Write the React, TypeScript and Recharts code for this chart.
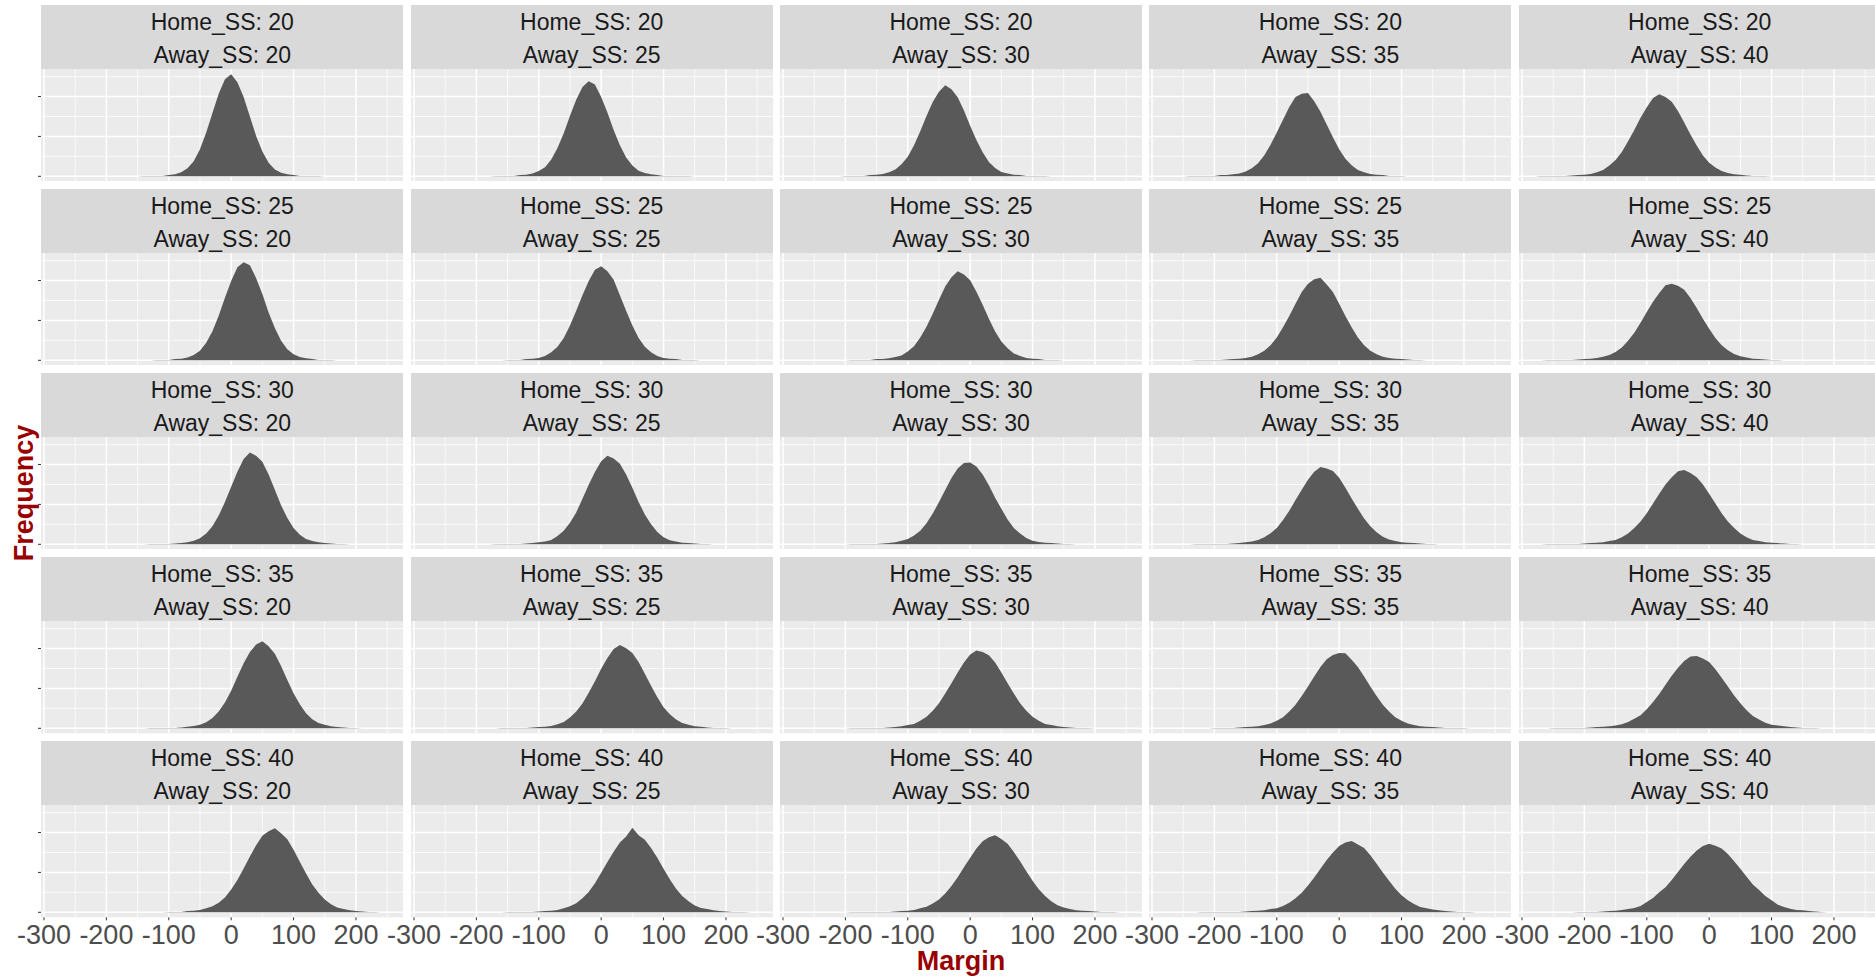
import { AreaChart, Area, XAxis, YAxis, CartesianGrid } from "recharts";

// facet labels
const HOME_SS = [20, 25, 30, 35, 40];
const AWAY_SS = [20, 25, 30, 35, 40];

// histogram bin centres (Margin), 10 points wide
const BINS = [
  -290, -280, -270, -260, -250, -240, -230, -220, -210, -200,
  -190, -180, -170, -160, -150, -140, -130, -120, -110, -100,
  -90, -80, -70, -60, -50, -40, -30, -20, -10, 0,
  10, 20, 30, 40, 50, 60, 70, 80, 90, 100,
  110, 120, 130, 140, 150, 160, 170, 180, 190, 200,
  210, 220, 230, 240, 250, 260, 270,
];

// first bin of each panel's counts, row = Home_SS, col = Away_SS
const FIRST_BIN = [
  [-150, -180, -210, -250, -280],
  [-130, -160, -200, -240, -270],
  [-140, -180, -200, -240, -270],
  [-140, -170, -200, -210, -260],
  [-110, -160, -200, -230, -220],
];

const HOME_20 = [
  [0, 1, 1, 1, 1, 3, 5, 10, 20, 38, 68, 110, 159, 207, 243, 256, 236, 199, 150, 101, 62, 34, 17, 9, 5, 3, 1, 1, 1, 1, 0],
  [0, 1, 1, 1, 1, 3, 4, 7, 13, 23, 42, 71, 108, 152, 192, 224, 238, 230, 199, 160, 116, 78, 47, 27, 14, 8, 5, 3, 1, 1, 1, 1, 1, 0],
  [0, 1, 1, 1, 1, 3, 4, 6, 10, 17, 30, 49, 78, 113, 151, 186, 212, 228, 218, 198, 165, 127, 91, 60, 36, 21, 11, 7, 4, 3, 1, 1, 1, 1, 0],
  [0, 1, 1, 1, 1, 1, 3, 3, 5, 7, 12, 20, 33, 53, 79, 110, 142, 174, 199, 207, 209, 188, 162, 130, 98, 68, 44, 28, 16, 10, 6, 4, 3, 1, 1, 1, 0],
  [0, 1, 1, 1, 1, 1, 2, 3, 4, 6, 10, 16, 27, 41, 61, 88, 116, 147, 173, 196, 206, 199, 187, 164, 135, 105, 77, 52, 34, 22, 13, 8, 5, 4, 2, 1, 1, 1, 0],
];

const HOME_25 = [
  [0, 1, 1, 1, 3, 4, 7, 13, 24, 44, 73, 112, 157, 199, 233, 246, 238, 206, 166, 120, 81, 49, 28, 15, 8, 5, 3, 1, 1, 1, 0],
  [0, 1, 1, 1, 3, 4, 6, 11, 20, 34, 56, 87, 124, 163, 199, 227, 236, 223, 202, 163, 124, 87, 56, 34, 20, 11, 6, 4, 3, 1, 1, 1, 0],
  [0, 1, 1, 1, 1, 3, 3, 5, 8, 12, 22, 35, 57, 84, 117, 152, 185, 208, 223, 215, 201, 172, 139, 104, 72, 47, 30, 17, 11, 6, 4, 3, 1, 1, 1, 0],
  [0, 1, 1, 1, 1, 1, 2, 3, 4, 6, 9, 15, 24, 38, 57, 83, 111, 142, 171, 192, 203, 207, 190, 171, 142, 111, 83, 57, 38, 24, 15, 9, 6, 4, 3, 2, 1, 1, 0],
  [0, 1, 1, 1, 1, 1, 2, 3, 4, 6, 9, 13, 21, 32, 49, 69, 94, 121, 147, 169, 188, 192, 187, 177, 156, 131, 104, 79, 56, 38, 25, 16, 10, 7, 4, 3, 2, 1, 1, 0],
];

const HOME_30 = [
  [0, 1, 1, 1, 1, 2, 3, 5, 9, 15, 27, 45, 72, 106, 144, 182, 214, 230, 222, 207, 175, 137, 98, 66, 41, 24, 13, 8, 5, 3, 2, 1, 1, 0],
  [0, 1, 1, 1, 1, 1, 2, 3, 5, 7, 11, 21, 34, 54, 80, 114, 149, 181, 208, 222, 215, 202, 175, 142, 106, 75, 50, 31, 18, 10, 7, 4, 3, 2, 1, 1, 0],
  [0, 1, 1, 1, 1, 1, 2, 3, 5, 9, 13, 22, 34, 53, 77, 106, 136, 166, 190, 204, 205, 195, 175, 148, 117, 89, 62, 41, 27, 16, 9, 6, 4, 3, 2, 1, 1, 0],
  [0, 1, 1, 1, 1, 1, 1, 2, 3, 5, 7, 11, 18, 28, 41, 61, 84, 111, 137, 162, 182, 194, 190, 184, 167, 142, 115, 89, 65, 45, 30, 19, 12, 8, 5, 4, 3, 2, 1, 1, 0],
  [0, 1, 1, 1, 1, 1, 1, 2, 3, 4, 5, 8, 11, 18, 27, 41, 57, 78, 102, 127, 150, 168, 183, 186, 179, 168, 150, 127, 102, 78, 57, 41, 27, 18, 11, 8, 5, 4, 3, 2, 1, 1, 0],
];

const HOME_35 = [
  [0, 1, 1, 1, 1, 1, 2, 4, 6, 9, 15, 26, 42, 65, 94, 129, 163, 191, 210, 218, 206, 187, 156, 121, 88, 60, 38, 23, 13, 9, 5, 3, 2, 1, 1, 0],
  [0, 1, 1, 1, 1, 1, 2, 3, 4, 6, 10, 16, 27, 42, 62, 89, 118, 149, 176, 199, 209, 201, 189, 166, 137, 107, 78, 53, 35, 22, 13, 9, 5, 4, 2, 1, 1, 1, 0],
  [0, 1, 1, 1, 1, 1, 1, 2, 3, 5, 8, 11, 19, 29, 44, 63, 87, 113, 140, 165, 185, 195, 191, 183, 165, 140, 113, 87, 63, 44, 29, 19, 11, 8, 5, 3, 2, 1, 1, 1, 0],
  [0, 1, 1, 1, 1, 2, 3, 4, 5, 8, 12, 19, 28, 42, 59, 81, 105, 130, 154, 173, 184, 189, 188, 172, 154, 130, 105, 81, 59, 42, 28, 19, 12, 8, 5, 4, 3, 2, 1, 1, 1, 1, 0],
  [0, 1, 1, 1, 1, 1, 1, 2, 3, 4, 5, 7, 10, 16, 24, 33, 48, 66, 86, 109, 132, 152, 169, 180, 181, 175, 166, 148, 127, 105, 82, 63, 45, 31, 22, 14, 9, 7, 5, 3, 2, 1, 1, 1, 0],
];

const HOME_40 = [
  [0, 1, 1, 1, 3, 4, 6, 10, 15, 24, 37, 57, 81, 110, 140, 168, 192, 203, 211, 198, 183, 157, 127, 97, 70, 49, 32, 20, 12, 8, 5, 3, 2, 1, 1, 0],
  [0, 1, 1, 1, 1, 1, 2, 3, 4, 6, 10, 15, 23, 35, 51, 73, 99, 126, 152, 175, 190, 212, 193, 182, 161, 137, 109, 83, 59, 41, 28, 17, 11, 8, 5, 3, 2, 1, 1, 1, 0],
  [0, 1, 1, 1, 1, 1, 1, 1, 2, 3, 4, 6, 10, 14, 22, 32, 47, 66, 88, 113, 137, 160, 178, 188, 193, 184, 172, 151, 128, 103, 79, 58, 41, 28, 18, 12, 8, 5, 4, 3, 2, 1, 1, 1, 0],
  [0, 1, 1, 1, 1, 1, 1, 1, 2, 3, 4, 5, 8, 10, 16, 24, 35, 49, 67, 87, 109, 131, 150, 166, 175, 179, 170, 161, 143, 122, 100, 79, 59, 43, 30, 21, 13, 10, 7, 5, 3, 2, 1, 1, 1, 0],
  [0, 1, 1, 1, 1, 2, 3, 4, 6, 8, 11, 16, 26, 36, 50, 63, 81, 101, 121, 139, 155, 166, 172, 167, 160, 146, 128, 109, 89, 70, 56, 41, 30, 19, 13, 9, 6, 5, 3, 2, 1, 0],
];

const COUNTS = [HOME_20, HOME_25, HOME_30, HOME_35, HOME_40];

const X_TICKS = [-300, -200, -100, 0, 100, 200];
const X_MINOR = [-250, -150, -50, 50, 150, 250];
const Y_TICKS = [0, 100, 200];
const Y_MINOR = [50, 150, 250];

const X_DOMAIN = [-304.8, 275.4];
const Y_DOMAIN = [-12.5, 269];

// layout (px)
const PANEL_LEFT = 41.3;
const COL_PITCH = 369.35;
const PANEL_W = 362;
const STRIP_TOP = 4.7;
const ROW_PITCH = 184.1;
const STRIP_H = 64.3;
const PLOT_H = 112.3;
const SIDE = 34;
const Y_AXIS_W = 4;
const AXIS_H = 40;

const FONT = "'Liberation Sans', Arial, Helvetica, sans-serif";
const BAR_COLOR = "#595959";
const PANEL_BG = "#EBEBEB";
const STRIP_BG = "#D9D9D9";
const TITLE_COLOR = "#990000";

// map values through the chart's own axis scale for the grid
const scaleOf = (axis: any) => {
  const s = axis && axis.scale;
  if (typeof s === "function") return (v: number) => s(v);
  if (s && typeof s.map === "function") return (v: number) => s.map(v);
  return null;
};

const yGrid = (values: number[]) => (props: any) => {
  const f = scaleOf(props.yAxis);
  return f ? values.map(f).filter((p) => Number.isFinite(p)) : [];
};

const xGrid = (values: number[]) => (props: any) => {
  const f = scaleOf(props.xAxis);
  return f ? values.map(f).filter((p) => Number.isFinite(p)) : [];
};

const NoLabel = () => <g />;

const Panel = ({ row, col }: { row: number; col: number }) => {
  const counts = COUNTS[row][col];
  const start = BINS.indexOf(FIRST_BIN[row][col]);
  const data = counts.map((n, i) => ({ margin: BINS[start + i], count: n }));
  const isBottom = row === HOME_SS.length - 1;
  const isLeft = col === 0;
  const left = PANEL_LEFT + col * COL_PITCH;
  const top = STRIP_TOP + row * ROW_PITCH;

  return (
    <>
      <div
        style={{
          position: "absolute",
          left,
          top,
          width: PANEL_W,
          height: STRIP_H,
          background: STRIP_BG,
          color: "#1A1A1A",
          fontFamily: FONT,
          fontSize: 23,
          lineHeight: "32.7px",
          paddingTop: 1.3,
          boxSizing: "border-box",
          textAlign: "center",
          whiteSpace: "nowrap",
        }}
      >
        <div>Home_SS: {HOME_SS[row]}</div>
        <div>Away_SS: {AWAY_SS[col]}</div>
      </div>
      <div style={{ position: "absolute", left: left - SIDE, top: top + STRIP_H }}>
        <AreaChart
          width={PANEL_W + 2 * SIDE}
          height={PLOT_H + (isBottom ? AXIS_H : 0)}
          data={data}
          margin={{ top: 0, right: SIDE, bottom: 0, left: isLeft ? SIDE - Y_AXIS_W : SIDE }}
        >
          <CartesianGrid
            fill={PANEL_BG}
            fillOpacity={1}
            stroke="#FFFFFF"
            strokeWidth={0.75}
            horizontalCoordinatesGenerator={yGrid(Y_MINOR)}
            verticalCoordinatesGenerator={xGrid(X_MINOR)}
          />
          <CartesianGrid
            stroke="#FFFFFF"
            strokeWidth={1.5}
            horizontalCoordinatesGenerator={yGrid(Y_TICKS)}
            verticalCoordinatesGenerator={xGrid(X_TICKS)}
          />
          <XAxis
            type="number"
            dataKey="margin"
            domain={X_DOMAIN}
            allowDataOverflow
            ticks={X_TICKS}
            interval={0}
            hide={!isBottom}
            height={AXIS_H}
            tickSize={3}
            tickMargin={5}
            axisLine={false}
            tickLine={{ stroke: "#333333" }}
            tick={{ fill: "#4D4D4D", fontSize: 27, fontFamily: FONT }}
          />
          <YAxis
            type="number"
            domain={Y_DOMAIN}
            allowDataOverflow
            ticks={Y_TICKS}
            interval={0}
            hide={!isLeft}
            width={Y_AXIS_W}
            tick={NoLabel}
            tickSize={3}
            axisLine={false}
            tickLine={{ stroke: "#333333" }}
          />
          <Area
            type="linear"
            dataKey="count"
            fill={BAR_COLOR}
            fillOpacity={1}
            stroke="none"
            baseValue={0}
            dot={false}
            activeDot={false}
            isAnimationActive={false}
          />
        </AreaChart>
      </div>
    </>
  );
};

export default function App() {
  return (
    <div
      style={{
        position: "absolute",
        left: 0,
        top: 0,
        width: 1875,
        height: 976,
        overflow: "hidden",
        background: "#FFFFFF",
      }}
    >
      {HOME_SS.map((_, r) =>
        AWAY_SS.map((__, c) => <Panel key={`${r}-${c}`} row={r} col={c} />)
      )}
      <div
        style={{
          position: "absolute",
          left: 24,
          top: 493,
          transform: "translate(-50%, -50%) rotate(-90deg)",
          fontFamily: FONT,
          fontWeight: "bold",
          fontSize: 27,
          lineHeight: "27px",
          color: TITLE_COLOR,
          whiteSpace: "nowrap",
        }}
      >
        Frequency
      </div>
      <div
        style={{
          position: "absolute",
          left: 861,
          top: 950.5,
          width: 200,
          textAlign: "center",
          fontFamily: FONT,
          fontWeight: "bold",
          fontSize: 27,
          lineHeight: "20px",
          color: TITLE_COLOR,
        }}
      >
        Margin
      </div>
    </div>
  );
}
